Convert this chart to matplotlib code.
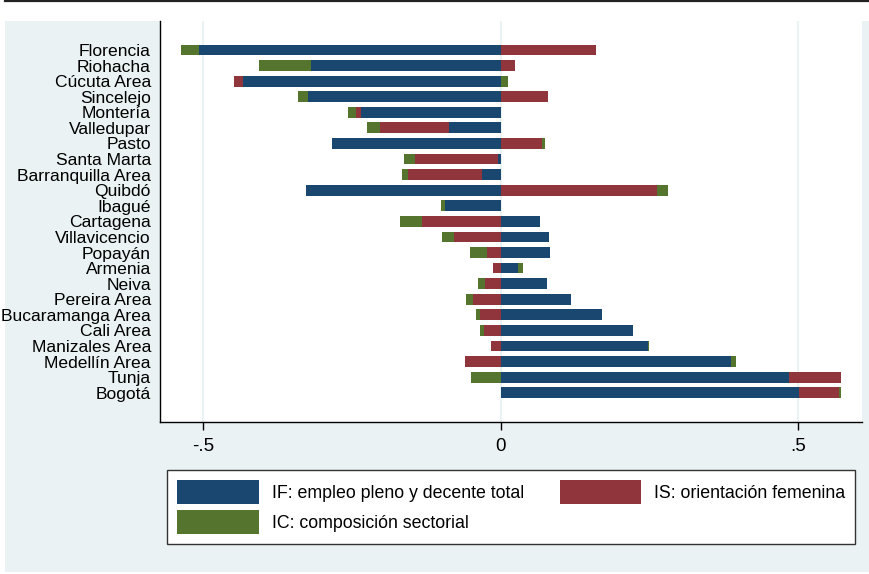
#!/usr/bin/env python3
import numpy as np
import matplotlib
matplotlib.use("Agg")
import matplotlib.pyplot as plt
from matplotlib.lines import Line2D
from matplotlib.patches import Rectangle

# cities, top to bottom
cities = ["Florencia", "Riohacha", "Cúcuta Area", "Sincelejo", "Montería", "Valledupar",
          "Pasto", "Santa Marta", "Barranquilla Area", "Quibdó", "Ibagué", "Cartagena",
          "Villavicencio", "Popayán", "Armenia", "Neiva", "Pereira Area", "Bucaramanga Area",
          "Cali Area", "Manizales Area", "Medellín Area", "Tunja", "Bogotá"]

# IF: empleo pleno y decente total
if_vals = [-0.506, -0.319, -0.432, -0.324, -0.234, -0.087, -0.283, -0.004, -0.032, -0.326,
           -0.094, 0.066, 0.082, 0.083, 0.030, 0.078, 0.118, 0.170, 0.222, 0.248, 0.387,
           0.484, 0.501]
# IS: orientación femenina
is_vals = [0.161, 0.025, -0.015, 0.079, -0.008, -0.115, 0.069, -0.139, -0.123, 0.262,
           0.0, -0.132, -0.078, -0.022, -0.013, -0.027, -0.047, -0.035, -0.028, -0.016,
           -0.059, 0.087, 0.067]
# IC: composición sectorial
ic_vals = [-0.030, -0.087, 0.013, -0.017, -0.015, -0.022, 0.005, -0.019, -0.011, 0.019,
           -0.006, -0.037, -0.020, -0.030, 0.007, -0.011, -0.011, -0.006, -0.007, 0.001,
           0.009, -0.050, 0.003]

series = [
    ("IF: empleo pleno y decente total", if_vals, "#1a476f"),
    ("IS: orientación femenina", is_vals, "#90353b"),
    ("IC: composición sectorial", ic_vals, "#55752f"),
]

BG = "#eaf2f3"
W, H = 870, 574

fig = plt.figure(figsize=(W / 100, H / 100), dpi=100)
fig.patch.set_facecolor("white")
fig.add_artist(Rectangle((5 / W, 1 - 572 / H), (W - 5) / W, (572 - 21) / H,
                         transform=fig.transFigure, facecolor=BG, edgecolor="none", zorder=0))
fig.add_artist(Line2D([5 / W, 1], [1 - 1 / H, 1 - 1 / H], transform=fig.transFigure,
                      color="#222222", lw=1.6))

ax = fig.add_axes([160 / W, 1 - 422 / H, (862 - 160) / W, (422 - 21) / H])
ax.set_facecolor("white")

y = np.arange(len(cities))
pos = np.zeros(len(cities))
neg = np.zeros(len(cities))
handles = []
for label, vals, col in series:
    v = np.array(vals)
    left = np.where(v >= 0, pos, neg)
    b = ax.barh(y, v, left=left, height=0.69, color=col, edgecolor="none", zorder=3, label=label)
    handles.append(b)
    pos = pos + np.where(v >= 0, v, 0)
    neg = neg + np.where(v < 0, v, 0)

ax.set_xlim(-0.572, 0.607)
ax.set_ylim(23.88, -1.86)
ax.set_yticks(y)
ax.set_yticklabels(cities, fontsize=12.6, family="Liberation Sans")
ax.tick_params(axis="y", length=0, pad=6.5)
ax.set_xticks([-0.5, 0, 0.5])
ax.set_xticklabels(["-.5", "0", ".5"], fontsize=13.5, family="Liberation Sans")
ax.tick_params(axis="x", length=5.8, width=1, pad=6)
ax.grid(axis="x", color=BG, lw=1.5, zorder=0)
ax.set_axisbelow(True)
for s in ["top", "right"]:
    ax.spines[s].set_visible(False)
for s in ["left", "bottom"]:
    ax.spines[s].set_linewidth(1)

leg = fig.legend(handles=[handles[0], handles[2], handles[1]],
                 labels=[series[0][0], series[2][0], series[1][0]],
                 ncol=2, loc="lower left",
                 bbox_to_anchor=(167 / W, 1 - 544 / H),
                 prop={"family": "Liberation Sans", "size": 12.8},
                 handlelength=4.6, handleheight=1.72, handletextpad=0.72,
                 columnspacing=2.0, borderpad=0.57, borderaxespad=0, labelspacing=0.3,
                 fancybox=False, framealpha=1)
leg.get_frame().set_edgecolor("#333333")
leg.get_frame().set_linewidth(1)

fig.savefig("out.png", dpi=100)
